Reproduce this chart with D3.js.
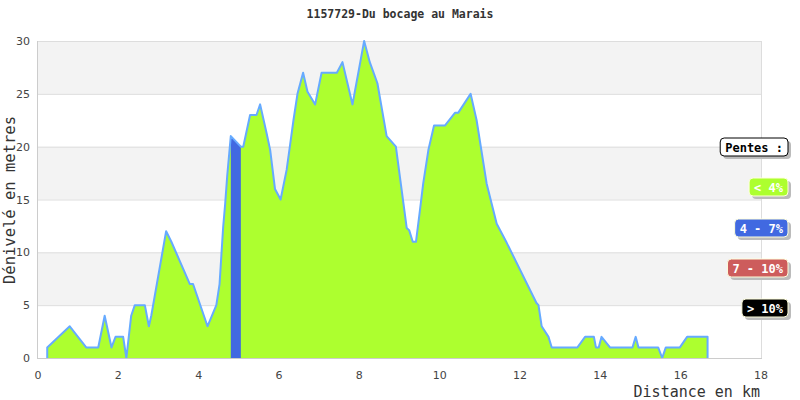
<!DOCTYPE html>
<html><head><meta charset="utf-8">
<script src="https://cdn.jsdelivr.net/npm/d3@7"></script>
<style>body{margin:0;background:#fff}svg{display:block}</style>
</head><body>
<svg id="c" width="800" height="400"></svg>
<script>
const title = "1157729-Du bocage au Marais";
const xLabel = "Distance en km";
const yLabel = "Dénivelé en metres";
const distances = [0.23,0.79,1.20,1.50,1.66,1.83,1.93,2.12,2.20,2.32,2.41,2.66,2.76,2.82,3.19,3.32,3.78,3.86,4.22,4.44,4.52,4.61,4.66,4.71,4.80,5.05,5.11,5.28,5.44,5.53,5.69,5.78,5.90,6.04,6.19,6.27,6.36,6.46,6.60,6.71,6.90,7.06,7.44,7.58,7.83,8.12,8.26,8.45,8.68,8.91,9.18,9.24,9.33,9.41,9.49,9.59,9.72,9.86,10.13,10.38,10.46,10.77,10.92,11.17,11.42,11.67,12.41,12.46,12.54,12.71,12.79,13.43,13.62,13.84,13.89,13.96,14.03,14.24,14.80,14.88,14.95,15.44,15.54,15.63,15.98,16.16,16.67];
const elevations = [1,3,1,1,4,1,2,2,0,4,5,5,3,4,12,11,7,7,3,5,7,12.4,14.6,17.2,21,20,20,23,23,24,21.3,19.7,16,15,17.8,20,22.5,25,27,25.2,24,27,27,28,24,30,28,26,21,20,12.3,12.1,11,11,13.4,16.5,19.7,22,22,23.2,23.2,25,22.5,16.5,12.7,10.9,5.2,5,3,2,1,1,2,2,1,1,2,1,1,2,1,1,0,1,1,2,2];
const highlightRanges = [[4.80, 5.05]];
const legendLabels = ["Pentes :", "< 4%", "4 - 7%", "7 - 10%", "> 10%"];
const legendColors = ["#ffffff", "#adff2f", "#4169e1", "#cd5c5c", "#000000"];
const legendText = ["#000000", "#ffffff", "#ffffff", "#ffffff", "#ffffff"];
const xTicks = [0,2,4,6,8,10,12,14,16,18];
const yTicks = [0,5,10,15,20,25,30];

const svg = d3.select("#c");
const L = 38, R = 761, T = 41, B = 358;
const x = d3.scaleLinear().domain([0,18]).range([L,R]);
const y = d3.scaleLinear().domain([0,30]).range([B,T]);
const pts = distances.map((d,i)=>[d, elevations[i]]);

// bands
for (let i=0;i<yTicks.length-1;i++){
  svg.append("rect").attr("x",L).attr("width",R-L)
    .attr("y",y(yTicks[i+1])).attr("height",y(yTicks[i])-y(yTicks[i+1]))
    .attr("fill", i%2===1 ? "#f3f3f3" : "#ffffff");
}
// grid lines
svg.append("g").selectAll("line").data(yTicks).join("line")
  .attr("x1",L).attr("x2",R).attr("y1",d=>y(d)+0.5).attr("y2",d=>y(d)+0.5)
  .attr("stroke","#dddddd");
svg.append("line").attr("x1",R+0.5).attr("x2",R+0.5).attr("y1",T).attr("y2",B).attr("stroke","#dddddd");
svg.append("line").attr("x1",L-0.5).attr("x2",L-0.5).attr("y1",T).attr("y2",B+1).attr("stroke","#cccccc");

// area
const area = d3.area().x(d=>x(d[0])).y0(y(0)).y1(d=>y(d[1]));
svg.append("path").datum(pts).attr("d",area).attr("fill","#adff2f");

// highlighted segments
const interp = xv => {
  for (let i=0;i<pts.length-1;i++){
    if (xv>=pts[i][0] && xv<=pts[i+1][0]){
      const t=(xv-pts[i][0])/(pts[i+1][0]-pts[i][0]);
      return pts[i][1]+t*(pts[i+1][1]-pts[i][1]);
    }
  }
  return 0;
};
highlightRanges.forEach(([a,b])=>{
  const seg = [[a,interp(a)]].concat(pts.filter(p=>p[0]>a&&p[0]<b)).concat([[b,interp(b)]]);
  svg.append("path").datum(seg).attr("d",area).attr("fill","#4169e1");
});

// outline
const outline = [[pts[0][0],0]].concat(pts).concat([[pts[pts.length-1][0],0]]);
svg.append("path").datum(outline)
  .attr("d", d3.line().x(d=>x(d[0])).y(d=>y(d[1])))
  .attr("fill","none").attr("stroke","#66aaff").attr("stroke-width",2).attr("stroke-linejoin","round");

// baseline axis
svg.append("line").attr("x1",L).attr("x2",R+1).attr("y1",B+0.5).attr("y2",B+0.5).attr("stroke","#cccccc");

// ticks
svg.append("g").selectAll("text").data(yTicks).join("text")
  .attr("x",30).attr("y",d=>y(d)+4).attr("text-anchor","end")
  .attr("font-family","DejaVu Sans, sans-serif").attr("font-size",11).attr("fill","#444")
  .text(d=>d);
svg.append("g").selectAll("text").data(xTicks).join("text")
  .attr("x",d=>x(d)).attr("y",379).attr("text-anchor","middle")
  .attr("font-family","DejaVu Sans, sans-serif").attr("font-size",11).attr("fill","#444")
  .text(d=>d);

// titles
svg.append("text").attr("x",400).attr("y",18).attr("text-anchor","middle")
  .attr("font-family","DejaVu Sans Mono, monospace").attr("font-size",11.5).attr("font-weight","bold").attr("fill","#333")
  .text(title);
svg.append("text").attr("transform","translate(15,200) rotate(-90)").attr("text-anchor","middle")
  .attr("font-family","DejaVu Sans Mono, monospace").attr("font-size",15.5).attr("fill","#333")
  .text(yLabel);
svg.append("text").attr("x",760).attr("y",397).attr("text-anchor","end")
  .attr("font-family","DejaVu Sans Mono, monospace").attr("font-size",15).attr("fill","#333")
  .text(xLabel);

// legend
const legY = [147, 187, 228, 268, 308];
const lg = svg.append("g");
legendLabels.forEach((lab,i)=>{
  const g = lg.append("g");
  const t = g.append("text").attr("x",783).attr("y",legY[i]+4.5).attr("text-anchor","end")
    .attr("font-family","DejaVu Sans Mono, monospace").attr("font-size",12).attr("font-weight","bold")
    .attr("fill",legendText[i]).text(lab);
  const bb = t.node().getBBox();
  const bx = bb.x-5, bw = 788-bx, by = legY[i]-9, bh = 18;
  g.insert("rect","text").attr("x",bx+3).attr("y",by+3).attr("width",bw).attr("height",bh).attr("rx",4).attr("fill","#bbbbbb");
  g.insert("rect","text").attr("x",bx).attr("y",by).attr("width",bw).attr("height",bh).attr("rx",4)
    .attr("fill",legendColors[i]).attr("stroke", i===0?"#000":"#ffffdd").attr("stroke-width",1);
});
</script>
</body></html>
